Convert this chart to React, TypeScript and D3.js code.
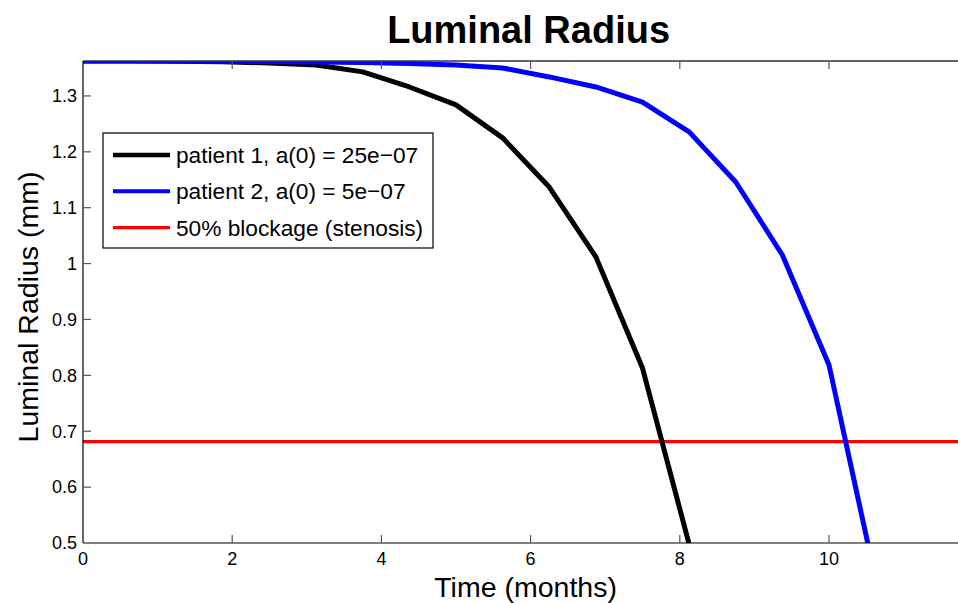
import { useEffect, useRef } from "react";
import * as d3 from "d3";

const months = [
  0, 0.625, 1.25, 1.875, 2.5, 3.125, 3.75, 4.375, 5, 5.625, 6.25, 6.875, 7.5, 8.125, 8.75, 9.375, 10, 10.625,
];
const patient1 = [
  1.3625, 1.3624, 1.362, 1.361, 1.359, 1.3555, 1.343, 1.316, 1.284, 1.225, 1.137, 1.012, 0.813, 0.498,
];
const patient2 = [
  1.3625, 1.3625, 1.3624, 1.3621, 1.3616, 1.3608, 1.3597, 1.358, 1.3555, 1.35, 1.334, 1.316, 1.289, 1.2356,
  1.146, 1.0154, 0.8186, 0.435,
];
const stenosis = 0.68125;
const xTicks = [0, 2, 4, 6, 8, 10, 12];
const yTicks = [0.5, 0.6, 0.7, 0.8, 0.9, 1, 1.1, 1.2, 1.3];
const legendLabels = [
  "patient 1, a(0) = 25e\u221207",
  "patient 2, a(0) = 5e\u221207",
  "50% blockage (stenosis)",
];

export default function App(): JSX.Element {
  const ref = useRef<SVGSVGElement | null>(null);

  useEffect(() => {
    if (!ref.current) return;
    const width = 958;
    const height = 603;
    const left = 83;
    const top = 61;
    const bottom = 543;
    const font = "'Liberation Sans', Arial, Helvetica, sans-serif";

    const x = d3.scaleLinear().domain([0, 12]).range([left, left + 12 * 74.6]);
    const y = d3.scaleLinear().domain([0.5, 1.3625]).range([bottom, top]);
    const right = Math.min(width, x(12));

    const svg = d3.select(ref.current).attr("width", width).attr("height", height);
    svg.selectAll("*").remove();

    svg.append("rect").attr("width", width).attr("height", height).attr("fill", "#fff");

    svg
      .append("defs")
      .append("clipPath")
      .attr("id", "plot-clip")
      .append("rect")
      .attr("x", left)
      .attr("y", top)
      .attr("width", x(12) - left)
      .attr("height", bottom - top);

    const line = d3
      .line<number>()
      .x((_, i) => x(months[i]))
      .y((d) => y(d));

    const plot = svg.append("g").attr("clip-path", "url(#plot-clip)");

    plot
      .append("line")
      .attr("x1", x(0))
      .attr("x2", x(12))
      .attr("y1", y(stenosis))
      .attr("y2", y(stenosis))
      .attr("stroke", "#ff0000")
      .attr("stroke-width", 3.2);

    plot
      .append("path")
      .attr("d", line(patient1))
      .attr("fill", "none")
      .attr("stroke", "#000")
      .attr("stroke-width", 5)
      .attr("stroke-linejoin", "round");

    plot
      .append("path")
      .attr("d", line(patient2))
      .attr("fill", "none")
      .attr("stroke", "#0000ff")
      .attr("stroke-width", 5)
      .attr("stroke-linejoin", "round");

    // axes box + inward ticks
    const axes = svg.append("g").attr("stroke", "#000").attr("stroke-width", 1.2);
    axes.append("line").attr("x1", left).attr("x2", right).attr("y1", top).attr("y2", top).attr("stroke", "#333").attr("stroke-width", 1.6);
    axes.append("line").attr("x1", left).attr("x2", right).attr("y1", bottom).attr("y2", bottom);
    axes.append("line").attr("x1", left).attr("x2", left).attr("y1", top).attr("y2", bottom);

    axes
      .selectAll("line.xt")
      .data(xTicks.slice(1))
      .join("line")
      .attr("class", "xt")
      .attr("x1", (d) => x(d))
      .attr("x2", (d) => x(d))
      .attr("y1", bottom)
      .attr("y2", bottom - 8)
      .attr("stroke", "#555");
    axes
      .selectAll("line.xt2")
      .data(xTicks.slice(1))
      .join("line")
      .attr("class", "xt2")
      .attr("x1", (d) => x(d))
      .attr("x2", (d) => x(d))
      .attr("y1", top)
      .attr("y2", top + 8)
      .attr("stroke", "#555");
    axes
      .selectAll("line.yt")
      .data(yTicks.slice(1))
      .join("line")
      .attr("class", "yt")
      .attr("x1", left)
      .attr("x2", left + 8)
      .attr("y1", (d) => y(d))
      .attr("y2", (d) => y(d))
      .attr("stroke", "#555");

    const fmt = (d: number) => String(+d.toFixed(1));

    svg
      .append("g")
      .selectAll("text")
      .data(xTicks.filter((d) => x(d) < width))
      .join("text")
      .attr("x", (d) => x(d))
      .attr("y", bottom + 22)
      .attr("text-anchor", "middle")
      .attr("font-family", font)
      .attr("font-size", 18)
      .attr("fill", "#000")
      .text(fmt);

    svg
      .append("g")
      .selectAll("text")
      .data(yTicks)
      .join("text")
      .attr("x", left - 6)
      .attr("y", (d) => y(d))
      .attr("dy", "0.35em")
      .attr("text-anchor", "end")
      .attr("font-family", font)
      .attr("font-size", 18)
      .attr("fill", "#000")
      .text(fmt);

    const cx = (left + x(12)) / 2;
    svg
      .append("text")
      .attr("x", cx - 2)
      .attr("y", 43)
      .attr("text-anchor", "middle")
      .attr("font-family", font)
      .attr("font-weight", "bold")
      .attr("font-size", 38)
      .text("Luminal Radius");

    svg
      .append("text")
      .attr("x", cx - 5)
      .attr("y", 597)
      .attr("text-anchor", "middle")
      .attr("font-family", font)
      .attr("font-size", 28.5)
      .text("Time (months)");

    svg
      .append("text")
      .attr("transform", `translate(38,${(top + bottom) / 2 + 5}) rotate(-90)`)
      .attr("text-anchor", "middle")
      .attr("font-family", font)
      .attr("font-size", 28.5)
      .text("Luminal Radius (mm)");

    // legend
    const legend = svg.append("g").attr("transform", "translate(103,133)");
    legend
      .append("rect")
      .attr("width", 330)
      .attr("height", 115)
      .attr("fill", "#fff")
      .attr("stroke", "#000")
      .attr("stroke-width", 1.2);
    const colors = ["#000", "#0000ff", "#ff0000"];
    const widths = [4.5, 4, 3.2];
    const rows = legend
      .selectAll("g")
      .data(legendLabels)
      .join("g")
      .attr("transform", (_, i) => `translate(0,${22 + i * 36.3})`);
    rows
      .append("line")
      .attr("x1", 10)
      .attr("x2", 67)
      .attr("stroke", (_, i) => colors[i])
      .attr("stroke-width", (_, i) => widths[i]);
    rows
      .append("text")
      .attr("x", 73)
      .attr("dy", "0.35em")
      .attr("font-family", font)
      .attr("font-size", 22.7)
      .text((d) => d);
  }, []);

  return <svg ref={ref} style={{ position: "absolute", left: 0, top: 0 }} />;
}
